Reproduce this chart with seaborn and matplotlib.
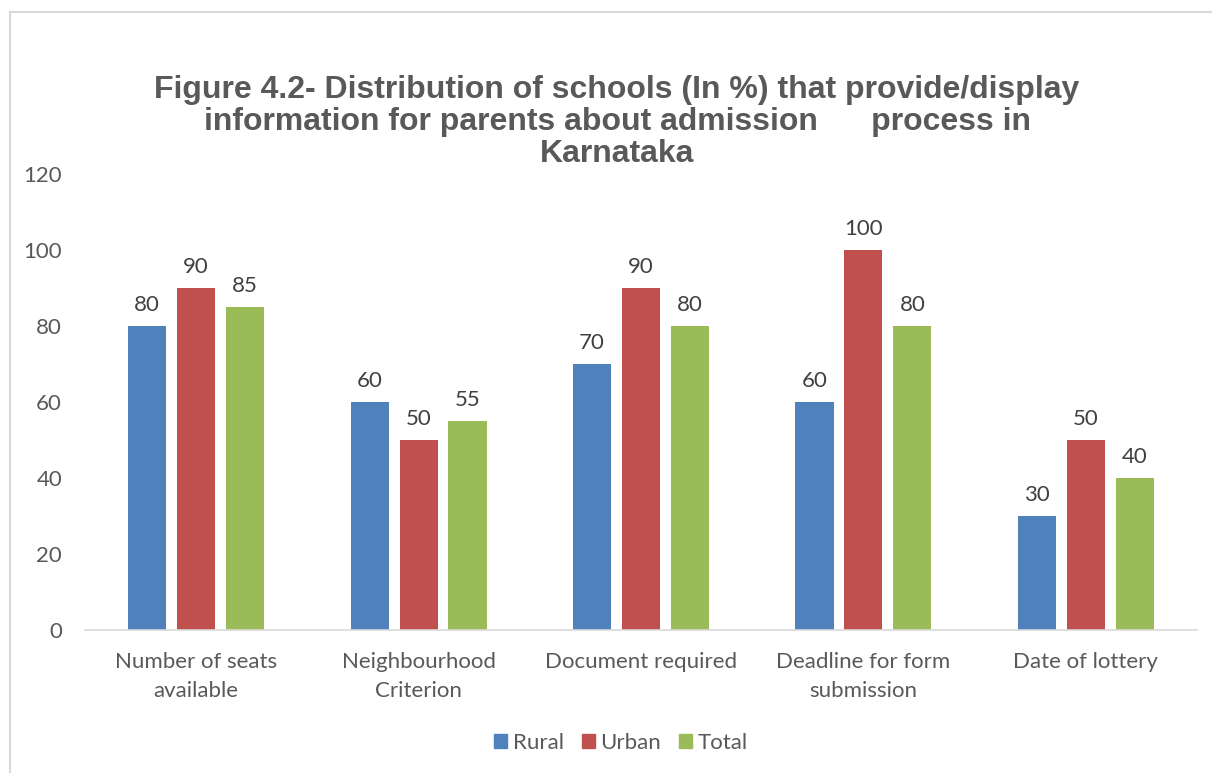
import matplotlib
matplotlib.use("Agg")
import matplotlib.pyplot as plt
import matplotlib.patches as mpatches
import pandas as pd
import seaborn as sns

# Data
categories = ["Number of seats\navailable", "Neighbourhood\nCriterion", "Document required",
              "Deadline for form\nsubmission", "Date of lottery"]
rural = [80, 60, 70, 60, 30]
urban = [90, 50, 90, 100, 50]
total = [85, 55, 80, 80, 40]
series = ["Rural", "Urban", "Total"]
colors = ["#4F81BD", "#C0504D", "#9BBB59"]

df = pd.DataFrame({
    "category": categories * 3,
    "series": [s for s in series for _ in categories],
    "value": rural + urban + total,
})

sns.set_theme(style="white")
plt.rcParams["font.family"] = ["Lato", "DejaVu Sans"]

W, H = 1212, 773
fig = plt.figure(figsize=(W / 100, H / 100), dpi=100)
ax = fig.add_axes([85 / W, 1 - 630 / H, (1197 - 85) / W, (630 - 174) / H])

sns.barplot(data=df, x="category", y="value", hue="series", palette=colors,
            order=categories, hue_order=series, width=0.66, gap=0.22,
            ax=ax, legend=True, saturation=1, edgecolor="none")

ax.set_ylim(0, 120)
ax.set_xlim(-0.5, 4.5)
ax.set_yticks(range(0, 121, 20))
ax.set_xlabel("")
ax.set_ylabel("")
ax.grid(False)
for side in ["top", "right", "left"]:
    ax.spines[side].set_visible(False)
ax.spines["bottom"].set_color("#D9D9D9")
ax.spines["bottom"].set_linewidth(1.2)
ax.tick_params(axis="both", length=0, labelsize=16, labelcolor="#595959")
ax.tick_params(axis="y", pad=16.5)
ax.tick_params(axis="x", pad=15.5)
for lbl in ax.get_xticklabels():
    lbl.set_linespacing(1.6)

# Value labels
for cont in ax.containers:
    ax.bar_label(cont, fmt="%d", padding=8, fontsize=16, color="#404040")

# Legend
handles = [mpatches.Patch(color=c, label=s) for s, c in zip(series, colors)]
ax.legend(handles=handles, loc="center", bbox_to_anchor=(621 / W, 1 - 743 / H),
          bbox_transform=fig.transFigure, ncol=3, frameon=False, fontsize=16,
          handlelength=0.6, handleheight=0.6, handletextpad=0.25, columnspacing=0.8,
          labelcolor="#595959")

# Title
fig.text(617 / W, 1 - 122 / H,
         "Figure 4.2- Distribution of schools (In %) that provide/display\n"
         "information for parents about admission      process in\n"
         "Karnataka",
         ha="center", va="center", fontsize=23, fontweight="bold", color="#595959",
         family=["Liberation Sans", "DejaVu Sans"], linespacing=1.1)

# Chart area border
fig.patches.append(mpatches.Rectangle((10 / W, -0.1), 1.2, 1 - 12 / H + 0.1,
                                      transform=fig.transFigure, fill=False,
                                      edgecolor="#D9D9D9", linewidth=1.5))

fig.savefig("out.png", dpi=100)
